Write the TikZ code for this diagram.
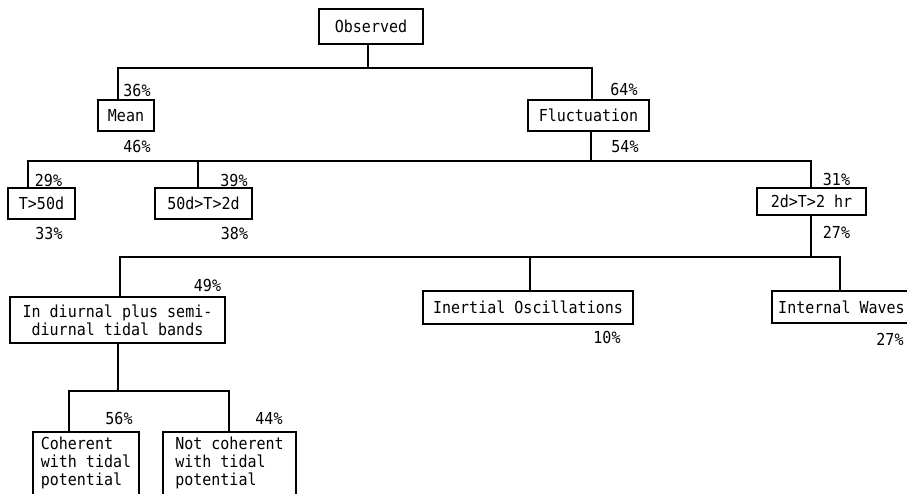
\documentclass[tikz,border=0pt]{standalone}
\usepackage{fontspec}
\newfontfamily\typefont[FakeStretch=0.91]{DejaVu Sans Mono}
\tikzset{
  lin/.style={line width=1.5pt, line cap=rect},
  box/.style={draw, line width=1.5pt, inner sep=0pt, font=\fontsize{16.5}{18}\selectfont\typefont},
  pct/.style={inner sep=0pt, font=\fontsize{16.5}{18}\selectfont\typefont},
}
\begin{document}
\begin{tikzpicture}[x=1pt,y=-1pt]
\useasboundingbox (0,0) rectangle (907,494);
\clip (0,0) rectangle (907,494);
\fill[white] (0,0) rectangle (907,494);

% boxes
\node[box, minimum width=104, minimum height=35] (obs) at (371,26.5) {Observed};
\node[box, minimum width=56, minimum height=31] (mean) at (126,115.5) {Mean};
\node[box, minimum width=121, minimum height=31] (fluc) at (588.5,115.5) {Fluctuation};
\node[box, minimum width=67, minimum height=31] (t50) at (41.5,203.5) {T>50d};
\node[box, minimum width=97, minimum height=31] (t502) at (203.5,203.5) {50d>T>2d};
\node[box, minimum width=109, minimum height=27] (t2hr) at (811.5,201.5) {2d>T>2 hr};
\node[box, minimum width=215, minimum height=46, align=center] (diur) at (117.5,320) {In diurnal plus semi-\\diurnal tidal bands};
\node[box, minimum width=210, minimum height=33] (inert) at (528,307.5) {Inertial Oscillations};
\node[box, minimum width=139, minimum height=32] (intw) at (841.5,307) {Internal Waves};
\node[box, minimum width=106, minimum height=76, align=left] (coh) at (86,470) {Coherent\\with tidal\\potential\\\mbox{}};
\node[box, minimum width=133, minimum height=76, align=left] (ncoh) at (229.5,470) {Not coherent\\with tidal\\potential\\\mbox{}};

% percentages
\node[pct] (p36) at (137,90) {36\%};
\node[pct] (p46) at (137,146) {46\%};
\node[pct] (p64) at (624,89) {64\%};
\node[pct] (p54) at (625,147) {54\%};
\node[pct] (p29) at (48.5,180) {29\%};
\node[pct] (p33) at (49,233) {33\%};
\node[pct] (p39) at (234,180) {39\%};
\node[pct] (p38) at (234.5,233) {38\%};
\node[pct] (p31) at (836.5,179) {31\%};
\node[pct] (p27a) at (836.5,232) {27\%};
\node[pct] (p49) at (207.5,285) {49\%};
\node[pct] (p10) at (607,337) {10\%};
\node[pct] (p27b) at (890,339) {27\%};
\node[pct] (p56) at (119,418) {56\%};
\node[pct] (p44) at (269,418) {44\%};

% junction coordinates
\coordinate (c1) at (368,68);
\coordinate (c1l) at (118,68);
\coordinate (c1r) at (592,68);
\coordinate (c2) at (591,161);
\coordinate (c2l) at (28,161);
\coordinate (c2m) at (198,161);
\coordinate (c2r) at (811,161);
\coordinate (c3) at (811,257);
\coordinate (c3l) at (120,257);
\coordinate (c3m) at (530,257);
\coordinate (c3r) at (840,257);
\coordinate (c4) at (118,391);
\coordinate (c4l) at (69,391);
\coordinate (c4r) at (229,391);

% connectors
\draw[lin] (obs.south -| c1) -- (c1);
\draw[lin] (c1l) -- (c1r);
\draw[lin] (c1l) -- (mean.north -| c1l);
\draw[lin] (c1r) -- (fluc.north -| c1r);

\draw[lin] (fluc.south -| c2) -- (c2);
\draw[lin] (c2l) -- (c2r);
\draw[lin] (c2l) -- (t50.north -| c2l);
\draw[lin] (c2m) -- (t502.north -| c2m);
\draw[lin] (c2r) -- (t2hr.north -| c2r);

\draw[lin] (t2hr.south -| c3) -- (c3);
\draw[lin] (c3l) -- (c3r);
\draw[lin] (c3l) -- (diur.north -| c3l);
\draw[lin] (c3m) -- (inert.north -| c3m);
\draw[lin] (c3r) -- (intw.north -| c3r);

\draw[lin] (diur.south -| c4) -- (c4);
\draw[lin] (c4l) -- (c4r);
\draw[lin] (c4l) -- (coh.north -| c4l);
\draw[lin] (c4r) -- (ncoh.north -| c4r);
\end{tikzpicture}
\end{document}
